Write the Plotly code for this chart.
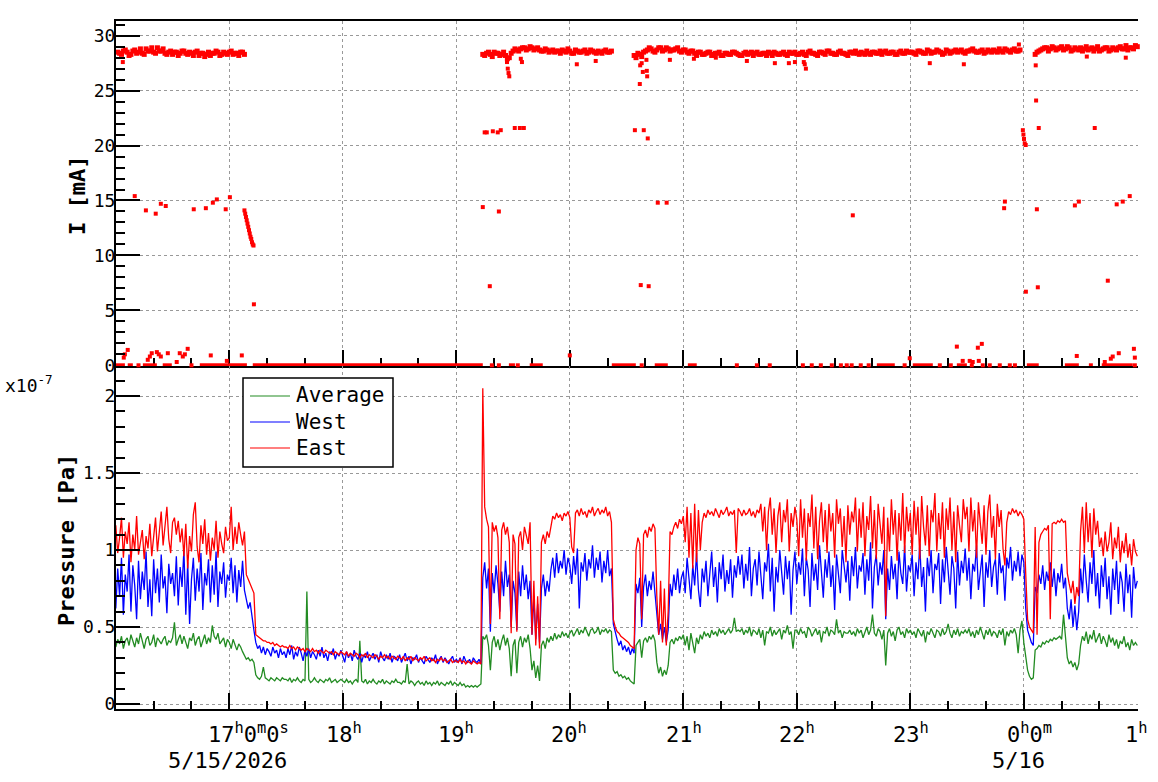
import pandas as pd
import plotly.graph_objects as go

W, H = 1158, 782
FONT = "DejaVu Sans Mono"

# ---------------- Pressure, one reading per minute 16:00 (5/15) .. 01:00 (5/16), stored as x100 of 1e-7 Pa
EAST = [
    116,98,108,121,95,112,104,118,92,110, 100,122,97,106,113,94,109,101,117,96, 108,121,99,112,125,103,115,128,107,98,
    118,121,110,119,105,114,96,117,88,109, 99,123,131,102,92,116,104,120,97,111, 93,108,100,119,95,112,104,98,115,106,
    108,128,100,115,104,118,110,103,112,84, 81,78,74,72,45,44,43,42,41,41, 40,40,39,40,38,39,38,37,38,37,
    37,36,38,36,37,35,37,36,35,36, 34,36,35,34,36,34,35,33,35,34, 33,35,34,33,34,32,34,33,32,34,
    33,32,34,31,33,32,31,33,32,30, 32,31,33,30,32,31,30,32,31,29, 31,30,32,30,31,29,31,30,29,31,
    30,29,31,28,30,29,31,28,30,29, 28,30,29,31,28,29,30,28,29,27, 29,28,30,28,29,27,28,29,27,28,
    28,27,29,27,28,26,28,27,26,28, 27,26,27,26,205,128,120,115,52,118, 112,116,108,55,113,118,110,115,105,46,
    110,104,47,108,112,100,115,110,104,118, 45,80,38,70,36,105,110,104,112,108, 115,122,120,124,121,123,119,124,122,125,
    121,102,98,124,126,122,127,123,125,121, 126,124,128,122,125,127,123,126,124,128, 122,125,118,55,50,47,46,44,43,42,
    41,40,38,37,36,100,108,104,55,110, 113,108,115,112,117,114,70,45,80,40, 75,38,60,112,110,115,118,114,120,117,
    122,105,128,95,124,88,130,92,126,100, 118,124,121,126,123,125,122,127,124,121, 126,123,125,128,122,125,123,126,98,127,
    125,122,126,123,124,127,122,125,121,126, 124,130,112,128,100,125,134,110,127,98, 122,131,105,126,118,133,99,124,115,128,
    120,96,133,108,127,93,124,115,136,101, 128,94,119,131,105,126,98,130,112,124, 95,133,117,127,102,122,92,129,110,125,
    118,134,99,127,108,131,96,122,113,135, 101,126,94,130,117,104,128,57,121,99, 133,110,126,93,124,106,137,98,128,112,
    124,97,132,110,128,94,135,115,103,129, 96,126,118,137,99,124,107,131,95,127, 113,134,100,125,92,129,116,105,133,120,
    128,99,134,112,126,95,131,118,104,129, 97,125,136,108,122,94,130,115,126,101, 90,118,125,123,127,124,126,122,125,123,
    120,85,55,50,48,46,115,45,105,110, 112,114,113,116,55,117,118,117,119,118, 120,118,119,85,78,72,80,65,76,70,
    112,128,98,131,105,124,95,127,110,119, 102,108,96,112,99,105,118,94,108,101, 115,92,106,98,111,95,104,90,107,99,
    96,
]
WEST = [
    62,88,70,95,58,84,73,97,60,90, 77,55,93,68,86,74,99,63,81,57, 94,72,88,66,97,75,83,59,91,78,
    85,70,96,64,89,76,100,58,92,52, 81,95,67,88,73,98,61,85,77,94, 66,90,71,99,63,86,78,92,69,84,
    80,95,72,90,66,87,76,93,74,68, 62,66,55,48,40,36,38,33,37,32, 36,34,31,37,33,35,30,36,32,34,
    30,36,32,38,29,34,31,37,33,28, 35,31,36,30,34,32,29,35,31,37, 30,33,28,34,32,36,29,33,31,35,
    31,27,34,30,33,28,35,31,29,33, 27,32,30,34,28,31,33,29,32,27, 34,30,28,32,29,33,27,31,30,28,
    32,27,30,33,28,31,26,30,29,32, 27,30,28,26,31,29,27,30,28,32, 26,29,31,27,30,28,26,29,31,27,
    29,27,30,26,31,28,27,29,26,30, 28,27,29,26,82,92,75,88,47,85, 72,90,78,60,86,70,93,76,84,50,
    80,72,48,86,70,90,74,84,68,80, 45,70,42,65,40,75,84,70,80,73, 87,95,82,98,85,93,88,100,84,95,
    90,78,96,84,101,62,92,86,98,80, 94,88,103,82,95,87,99,79,93,85, 100,83,88,52,46,42,38,41,35,38,
    34,37,32,36,33,78,72,82,50,76, 84,70,80,74,86,72,55,45,52,42, 50,40,48,78,70,84,74,88,72,82,
    86,72,95,80,68,90,77,98,74,63, 88,79,93,70,85,99,76,89,66,92, 81,97,73,87,78,94,69,90,82,96,
    84,97,75,91,80,102,70,88,94,77, 99,82,68,92,86,104,73,95,60,89, 79,100,85,71,96,81,93,58,87,99,
    78,92,84,101,70,95,87,63,98,80, 91,74,103,86,69,94,82,99,76,90, 61,97,85,72,100,88,79,93,67,96,
    83,102,75,90,86,98,71,94,80,105, 62,89,97,77,92,84,100,55,88,74, 96,81,91,68,99,85,78,103,73,90,
    86,97,70,92,81,104,76,89,60,95, 83,100,72,91,87,98,65,94,79,102, 84,71,96,88,62,99,77,93,85,101,
    80,95,68,91,86,103,74,88,97,63, 92,82,100,76,89,94,71,98,85,90, 67,95,88,102,80,93,86,99,83,97,
    92,62,48,44,40,38,76,72,84,78, 90,74,86,80,92,76,88,70,85,79, 91,75,82,62,55,68,50,64,48,60,
    88,72,97,80,66,92,78,100,70,85, 62,90,76,95,68,83,58,88,74,93, 65,86,79,60,91,72,84,56,89,75,
    80,
]
AVERAGE = [
    37,42,39,44,36,41,43,38,45,40, 37,43,39,46,41,36,42,44,38,40, 45,37,43,41,39,42,44,38,41,40,
    43,53,38,42,45,39,44,40,36,43, 41,46,38,42,44,37,41,45,39,43, 40,51,44,42,46,39,41,43,37,42,
    40,36,42,38,35,39,37,34,31,29, 30,28,29,27,19,17,16,18,24,17, 16,15,17,16,15,17,16,15,17,16,
    16,15,17,14,16,15,17,15,14,16, 15,73,16,14,15,17,15,14,16,15, 14,16,15,17,14,15,16,14,15,16,
    15,14,16,14,15,13,15,16,14,41, 15,14,16,13,15,14,16,14,13,15, 14,16,13,15,14,13,15,14,16,14,
    14,13,15,14,26,13,15,14,12,14, 15,13,14,12,15,13,14,12,14,13, 15,12,14,13,12,14,13,15,12,14,
    13,12,14,12,13,11,12,11,12,11, 12,11,12,13,44,42,45,38,22,40, 44,37,42,35,41,45,38,43,36,18,
    38,42,20,40,44,37,43,40,45,36, 22,28,17,25,15,38,41,36,43,40, 44,41,46,42,45,43,47,44,46,43,
    46,48,44,47,49,45,48,46,50,47, 44,48,49,46,47,50,45,48,47,49, 46,48,47,22,20,21,18,19,17,18,
    16,17,15,14,13,38,40,42,30,41, 43,40,44,42,45,41,27,20,24,18, 22,19,25,40,42,39,43,41,44,42,
    45,38,44,35,46,40,33,43,39,45, 42,47,44,46,43,48,45,47,44,49, 46,48,45,47,49,46,48,56,47,48,
    47,49,45,48,46,50,44,48,47,45, 49,43,48,38,47,46,50,44,48,45, 47,49,42,48,46,51,45,47,36,48,
    48,45,49,46,47,43,50,48,44,47, 49,45,48,40,47,46,50,44,48,47, 45,55,46,48,43,47,46,46,48,45,
    47,44,49,46,48,43,47,50,45,48, 58,46,44,49,47,42,48,25,46,49, 44,47,41,48,50,45,47,43,49,46,
    48,45,47,43,49,46,44,48,40,47, 45,49,46,43,48,47,44,49,45,47, 52,46,43,48,45,49,44,47,46,48,
    46,49,44,47,43,48,45,50,46,42, 48,45,49,44,47,46,43,48,45,49, 38,47,44,48,46,49,45,33,48,54,
    40,30,22,18,16,17,35,36,38,37, 40,39,41,40,42,41,43,42,43,44, 42,58,44,30,26,28,24,27,22,26,
    38,44,41,47,39,45,42,48,40,43, 46,39,44,41,37,45,40,43,38,42, 36,41,39,44,37,40,35,42,38,40,
    38,
]

# ---------------- Beam current [mA]: main band on even minutes (16:00..01:00) and odd minutes (16:01..00:59)
BAND_EVEN = (
    [28.2,28.4,28.6,28.5,28.3,28.7,28.5,28.4,28.8,28.6, 28.5,28.9,28.6,28.4,28.5,28.3,28.5,28.4,28.6,28.3,
     28.4,28.5,28.2,28.4,28.3,28.2,28.4,28.5,28.3,28.4, 28.5,28.3,28.4,28.5,28.3]
    + [None] * 62
    + [28.3,28.4,28.3,28.5,28.4,28.3,28.2,28.0,28.6,28.7, 28.8,28.9,28.8,28.9,28.8,28.7,28.6,28.7,28.6,28.5,
       28.6,28.7,28.5,28.6,28.4,28.6,28.5,28.7,28.5,28.6, 28.4,28.5,28.6,28.5,28.6]
    + [None] * 5
    + [28.2,28.4,28.1,28.6,28.9,28.6,28.7,28.9,28.7,28.8,28.7,28.8,28.6,28.7,
       28.5,28.6,28.4,28.5,28.3,28.4,28.5,28.3,28.4,28.2, 28.4,28.3,28.5,28.4,28.2,28.4,28.3,28.5,28.4,28.3,
       28.4,28.2,28.4,28.5,28.3,28.4,28.3,28.5,28.4,28.3,
       28.4,28.3,28.5,28.4,28.3,28.5,28.4,28.6,28.4,28.3, 28.5,28.4,28.3,28.5,28.4,28.4,28.5,28.3,28.4,28.5,
       28.4,28.6,28.5,28.4,28.5,28.3,28.5,28.4,28.6,28.5,
       28.4,28.6,28.5,28.4,28.6,28.5,28.7,28.5,28.4,28.6, 28.5,28.7,28.6,28.5,28.6,28.7,28.6,28.5,28.7,28.5,
       28.6,28.7,28.5,28.6,28.8,28.6,28.7,28.6,28.7]
    + [None] * 3
    + [28.3,28.6,28.8,28.9,28.8,28.9,28.8,29.0,28.8,28.9, 28.7,28.8,28.9,28.8,28.7,28.9,28.8,28.6,28.8,28.9,
       28.7,28.8,28.9,28.8,29.1,28.9,28.8,29.0]
)
BAND_ODD = (
    [28.5,28.3,28.7,28.2,28.6,28.4,28.8,28.3,28.6,28.9, 28.4,28.6,28.8,28.3,28.6,28.5,28.2,28.6,28.4,28.5,
     28.2,28.6,28.4,28.1,28.5,28.4,28.6,28.2,28.5,28.3, 28.6,28.4,28.2,28.5]
    + [None] * 63
    + [28.2,28.5,28.1,28.4,28.2,28.5,27.9,28.4,28.8,28.6, 28.9,28.7,29.0,28.7,28.9,28.6,28.8,28.5,28.7,28.6,
       28.4,28.6,28.8,28.4,28.7,28.5,28.6,28.4,28.7,28.5, 28.6,28.4,28.7,28.5]
    + [None] * 6
    + [28.0,28.3,28.5,28.7,28.8,28.5,28.9,28.6,28.9,28.6,28.7,28.9,28.5,
       28.7,28.4,28.6,28.2,28.5,28.3,28.5,28.2,28.4,28.5, 28.2,28.4,28.3,28.5,28.3,28.2,28.5,28.4,28.2,28.5,
       28.3,28.4,28.5,28.2,28.4,28.3,28.5,28.2,28.4,28.5,
       28.3,28.5,28.2,28.6,28.4,28.2,28.5,28.3,28.6,28.4, 28.3,28.6,28.4,28.2,28.5,28.6,28.3,28.4,28.6,28.3,
       28.5,28.4,28.3,28.6,28.4,28.5,28.3,28.6,28.4,28.5,
       28.5,28.3,28.6,28.4,28.7,28.4,28.5,28.6,28.3,28.7, 28.4,28.6,28.5,28.7,28.4,28.6,28.8,28.5,28.6,28.4,
       28.7,28.5,28.6,28.8,28.5,28.7,28.5,28.8,28.6]
    + [None] * 4
    + [28.5,28.7,28.9,28.6,29.0,28.7,28.9,28.7,29.0,28.6, 28.9,28.7,28.6,29.0,28.8,28.6,29.0,28.7,28.9,28.6,
       28.9,28.7,29.0,28.8,28.7,28.9,29.1]
)

# scattered current readings: minutes after 16:00 and value [mA]
OUT_MIN = [3.7,4.2,4.8,6.3,10,15.9,16.9,18,19,21.1,21.7,22.7,23.8,23.8,26.4,27.5,32.2,33.8,35.4,36.5,38,
           41.2,47.6,50.2,51.3,53.4,58.1,58.7,60.3,66.6,
           68.0,68.4,68.8,69.2,69.6,70.0,70.4,70.8,71.2,71.6,72.0,72.4,72.8,73.0,
           194,195,196.1,197.7,199.3,201.9,202.5,203.5,206.8,207.2,207.6,208.0,210.9,213.6,214.1,214.7,215.7,
           240.0,243.7,253.7,
           274.4,277.0,277.2,277.5,278.0,278.6,279.1,280.5,280.7,280.9,281.2,281.7,286.5,291.2,292.9,
           305.6,317.2,333.6,348.4,355.8,359.0,363.7,364.2,364.8,389.6,419.7,430.3,444.6,447.7,448.3,
           451.4,453.0,455.7,456.2,457.8,469.6,470.0,477.4,479.5,479.8,480.1,480.5,481.0,481.1,
           486.3,486.5,486.9,487.4,487.9,507.0,508.0,509.1,513.3,517.5,522.8,524.4,526.0,527.0,
           529.1,530.2,532.3,533.9,536.0,538.2,538.7]
OUT_VAL = [27.6,0.7,1.0,1.4,15.4,14.1,0.5,0.8,1.1,13.8,1.2,1.0,0.8,14.7,14.5,1.1,0.3,1.1,0.8,1.0,1.5,
           14.2,14.3,0.9,14.8,15.1,14.2,0.4,15.3,0.9,
           14.1,13.8,13.5,13.2,12.9,12.6,12.3,12.0,11.7,11.5,11.2,11.0,10.9,5.55,
           14.4,21.2,21.2,7.2,21.3,21.2,14.0,21.4,27.6,27.0,26.6,26.3,21.6,21.6,27.9,27.6,21.6,
           0.9,27.4,27.7,
           21.4,25.6,27.3,7.3,27.5,26.7,21.4,27.8,26.8,26.3,20.65,7.2,14.8,14.8,27.8,
           27.9,28.0,27.7,27.5,27.5,27.6,27.6,27.4,27.0,13.65,0.64,27.5,1.7,0.4,27.4,
           0.4,0.3,1.6,0.4,1.95,14.3,14.9,29.2,21.4,21.0,20.6,20.2,20.05,6.7,
           27.3,24.1,14.2,7.1,21.6,14.55,0.85,14.9,28.1,21.6,0.3,7.7,0.6,0.8,
           14.65,1.1,14.9,28.0,15.4,1.5,0.7]

# stretches where the current read 0 mA (minutes after 16:00) and isolated zero readings
ZERO_START = [0, 6.3, 14.3, 24.8, 44.4, 72.4, 207.8, 218.8, 262.2, 284.9, 302.4, 402.3, 421.3, 444.6,
              481.6, 501.7, 514.4, 521.2]
ZERO_END = [4.8, 9, 21.7, 29.6, 69.3, 194, 211, 225.7, 274.9, 291.8, 307.1, 411.8, 431.9, 449.9,
            487.9, 509.1, 516.5, 537.6]
ZERO_PTS = [12, 40, 198.8, 202.5, 212.5, 278, 328.3, 338.9, 345.7, 363.2, 367.9, 372.7, 378.5, 383.3,
            386.4, 389, 393.8, 398, 417, 435.6, 441.4, 452.5, 458.3, 462, 467.3, 472.6, 475.3, 538.7]

SERIES = [("Average", AVERAGE, "#228b22"), ("West", WEST, "#0000ff"), ("East", EAST, "#ff0000")]

assert len(EAST) == len(WEST) == len(AVERAGE) == 541
assert len(BAND_EVEN) == 271 and len(BAND_ODD) == 270
assert len(OUT_MIN) == len(OUT_VAL) and len(ZERO_START) == len(ZERO_END)

T0 = pd.Timestamp("2026-05-15 16:00")
p_time = pd.date_range(T0, "2026-05-16 01:00", freq="1min")
even_time = pd.date_range(T0, "2026-05-16 01:00", freq="2min")
odd_time = pd.date_range("2026-05-15 16:01", "2026-05-16 00:59", freq="2min")


def tm(m):
    return T0 + pd.to_timedelta(m, unit="min")


zx, zy = [], []
for s, e in zip(ZERO_START, ZERO_END):
    zx += [tm(s), tm(e), None]
    zy += [0, 0, None]


def px(x):
    return x / W


def py(y):
    return 1 - y / H


fig = go.Figure()
mk = dict(symbol="square", size=4, color="#ff0000", line=dict(width=0))
mkb = dict(symbol="square", size=5, color="#ff0000", line=dict(width=0))
fig.add_trace(go.Scatter(x=zx, y=zy, mode="lines", line=dict(color="#ff0000", width=4),
                         showlegend=False, xaxis="x", yaxis="y", hoverinfo="skip"))
fig.add_trace(go.Scatter(x=[tm(m) for m in ZERO_PTS], y=[0] * len(ZERO_PTS), mode="markers", marker=mk,
                         showlegend=False, cliponaxis=False, xaxis="x", yaxis="y"))
fig.add_trace(go.Scatter(x=even_time, y=BAND_EVEN, mode="markers", marker=mkb, showlegend=False,
                         cliponaxis=False, xaxis="x", yaxis="y"))
fig.add_trace(go.Scatter(x=odd_time, y=BAND_ODD, mode="markers", marker=mkb, showlegend=False,
                         cliponaxis=False, xaxis="x", yaxis="y"))
fig.add_trace(go.Scatter(x=[tm(m) for m in OUT_MIN], y=OUT_VAL, mode="markers", marker=mk,
                         showlegend=False, cliponaxis=False, xaxis="x", yaxis="y"))

for name, vals, col in SERIES:
    fig.add_trace(go.Scatter(x=p_time, y=[v / 100 for v in vals], mode="lines", name=name,
                             line=dict(color=col, width=1.3), xaxis="x2", yaxis="y2", showlegend=False))

XR = ["2026-05-15 16:00:06", "2026-05-16 01:00:22"]
XD = [px(116), px(1138)]
grid = dict(showgrid=True, gridcolor="#999999", gridwidth=1, griddash="3px,3px")
xcommon = dict(type="date", range=XR, domain=XD, showline=True, linecolor="black", linewidth=2,
               ticks="inside", ticklen=16, tickwidth=2, tickcolor="black", automargin=False,
               tickmode="linear", tick0="2026-05-15 17:00", dtick=3600000,
               minor=dict(ticks="inside", dtick=1200000, ticklen=8, tickwidth=2, tickcolor="black", showgrid=False),
               showticklabels=False, zeroline=False, **grid)
ycommon = dict(showline=True, linecolor="black", linewidth=2, ticks="inside", ticklen=24, tickwidth=2,
               tickcolor="black", zeroline=False, automargin=False, ticklabelstandoff=-5,
               tickfont=dict(family=FONT, size=18, color="black"), **grid)

fig.update_layout(
    width=W, height=H, margin=dict(l=0, r=0, t=0, b=0, pad=0, autoexpand=False),
    paper_bgcolor="white", plot_bgcolor="white", showlegend=False,
    xaxis=dict(anchor="y", mirror=True, layer="below traces", **xcommon),
    xaxis2=dict(anchor="y2", **xcommon),
    yaxis=dict(anchor="x", domain=[py(366), py(21.3)], range=[-0.064, 31.31], tickmode="linear", tick0=0, dtick=5,
               minor=dict(ticks="inside", dtick=1, ticklen=9, tickwidth=2, tickcolor="black", showgrid=False),
               **ycommon),
    yaxis2=dict(anchor="x2", domain=[py(709.3), py(366)], range=[-0.0344, 2.1948], tickmode="linear", tick0=0,
                dtick=0.5,
                minor=dict(ticks="inside", dtick=0.1, ticklen=9, tickwidth=2, tickcolor="black", showgrid=False),
                **ycommon),
)

# legend box (ROOT style, compact rows)
shapes = [dict(type="rect", xref="paper", yref="paper", x0=px(243), x1=px(393), y0=py(467), y1=py(378),
               line=dict(color="black", width=1.5), fillcolor="white", layer="above")]
ann = []
for i, (name, _, col) in enumerate(SERIES):
    yrow = 396 + 26 * i
    shapes.append(dict(type="line", xref="paper", yref="paper", x0=px(250), x1=px(290), y0=py(yrow), y1=py(yrow),
                       line=dict(color=col, width=1.2), layer="above"))
    ann.append(dict(text=name, x=px(294), y=py(yrow - 0.5), xref="paper", yref="paper", xanchor="left",
                    yanchor="middle", showarrow=False, font=dict(family=FONT, size=21, color="black")))

f22 = dict(family=FONT, size=22, color="black")
time_labels = [
    ("17<sup>h</sup>0<sup>m</sup>0<sup>s</sup>", 206, "left"),
    ("18<sup>h</sup>", 344, "center"), ("19<sup>h</sup>", 456, "center"), ("20<sup>h</sup>", 569, "center"),
    ("21<sup>h</sup>", 683.5, "center"), ("22<sup>h</sup>", 796.5, "center"), ("23<sup>h</sup>", 910.5, "center"),
    ("0<sup>h</sup>0<sup>m</sup>", 1005, "left"), ("1<sup>h</sup>", 1136.5, "center"),
]
for txt, x, anc in time_labels:
    ann.append(dict(text=txt, x=px(x), y=py(716.5), xref="paper", yref="paper", xanchor=anc, yanchor="top",
                    showarrow=False, font=f22))
for txt, x in [("5/15/2026", 227), ("5/16", 1018.5)]:
    ann.append(dict(text=txt, x=px(x), y=py(745.6), xref="paper", yref="paper", xanchor="center",
                    yanchor="top", showarrow=False, font=f22))
ann.append(dict(text="x10<sup>-7</sup>", x=px(3), y=py(369.7), xref="paper", yref="paper", xanchor="left",
                yanchor="top", showarrow=False, font=dict(family=FONT, size=18, color="black")))
ann.append(dict(text="<b>I [mA]</b>", x=px(77), y=py(196), xref="paper", yref="paper", xanchor="center",
                yanchor="middle", textangle=-90, showarrow=False, font=f22))
ann.append(dict(text="<b>Pressure [Pa]</b>", x=px(66), y=py(540), xref="paper", yref="paper",
                xanchor="center", yanchor="middle", textangle=-90, showarrow=False, font=f22))
fig.update_layout(annotations=ann, shapes=shapes)

fig.write_html("out.html")
